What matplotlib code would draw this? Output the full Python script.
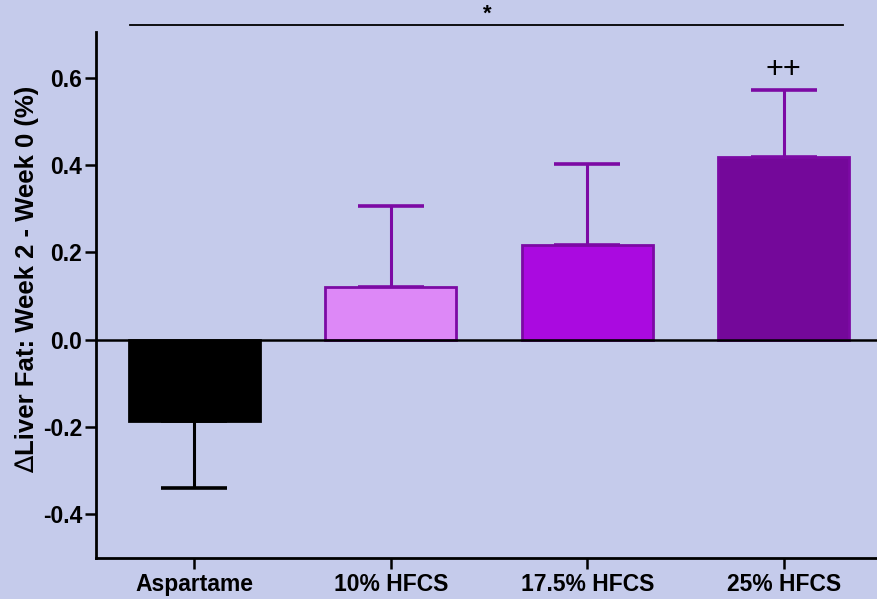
import numpy as np
import matplotlib
matplotlib.use("Agg")
import matplotlib.pyplot as plt

plt.rcParams['font.family'] = ['Liberation Sans', 'DejaVu Sans']
plt.rcParams['font.weight'] = 'bold'

groups = ["Aspartame", "10% HFCS", "17.5% HFCS", "25% HFCS"]
means = [-0.185, 0.121, 0.217, 0.418]
sems = [0.155, 0.185, 0.186, 0.154]
fills = ["#000000", "#DD88F7", "#AA0AE0", "#74089A"]
edges = ["#000000", "#7C0AA4", "#7C0AA4", "#7C0AA4"]
yticks = [-0.4, -0.2, 0.0, 0.2, 0.4, 0.6]

bg = "#C5CBEB"
fig = plt.figure(figsize=(8.77, 5.99), dpi=100, facecolor=bg)
ax = fig.add_axes([0.1095, 0.0684, 0.8905, 0.8782], facecolor=bg)

x = np.arange(len(groups))
ax.bar(x, means, width=0.667, color=fills, edgecolor=edges, linewidth=2, zorder=3)

for i in range(len(groups)):
    if means[i] < 0:
        err = [[sems[i]], [0]]
    else:
        err = [[0], [sems[i]]]
    ax.errorbar(x[i], means[i], yerr=err, fmt="none", ecolor=edges[i],
                elinewidth=2.2, capsize=24, capthick=2.6, zorder=2)

ax.axhline(0, color="black", linewidth=1.8, zorder=4)

ax.set_xlim(-0.5, 3.474)
ax.set_ylim(-0.5, 0.705)
ax.set_xticks(x)
ax.set_xticklabels(groups, fontsize=16.5, fontweight="bold")
ax.set_yticks(yticks)
ax.set_yticklabels(["%.1f" % v for v in yticks], fontsize=16.5, fontweight="bold")
ax.tick_params(axis="both", direction="out", length=8, width=1.8, pad=2)
ax.tick_params(axis="x", pad=3)

for s in ["top", "right"]:
    ax.spines[s].set_visible(False)
for s in ["left", "bottom"]:
    ax.spines[s].set_linewidth(2)

# y label: thin delta + bold text
ax.text(-0.088, 0.196, "Liver Fat: Week 2 - Week 0 (%)", transform=ax.transAxes,
        rotation=90, ha="center", va="bottom", fontsize=18.5, fontweight="bold")
ax.text(-0.088, 0.194, "\u2206", transform=ax.transAxes, rotation=90,
        ha="center", va="top", fontsize=18.5, fontweight="normal",
        family=["DejaVu Sans"])

# significance annotations
ax.plot([-0.327, 3.30], [0.72, 0.72], color="black", linewidth=1.3, clip_on=False)
ax.text(1.49, 0.722, "*", ha="center", va="bottom", fontsize=16, fontweight="bold")
ax.text(x[3], 0.617, "++", ha="center", va="center", fontsize=22, fontweight="normal")

fig.savefig("out.png", dpi=100, facecolor=bg)
